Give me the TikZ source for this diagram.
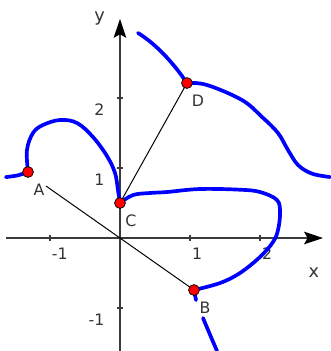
\documentclass[tikz,border=0pt]{standalone}
\usepackage{fontspec}
\setmainfont{DejaVu Sans}
\usetikzlibrary{arrows.meta}
\definecolor{axisgray}{HTML}{3a3a3a}
\definecolor{labelgray}{HTML}{333333}
\begin{document}
\begin{tikzpicture}[
        curve/.style={blue,line width=1.5pt,line cap=round,line join=round},
        axis/.style={axisgray,line width=0.65pt,-{Stealth[length=2.7mm,width=1.8mm,inset=0.5mm,color=black]}},
        dot/.style={circle,draw=black,fill=red,line width=0.3pt,inner sep=0pt,minimum size=1.55mm},
        lbl/.style={text=labelgray,font=\fontsize{6.4}{7}\selectfont,inner sep=0pt}
    ]
        \useasboundingbox (-1.714,-1.614) rectangle (3.0,3.4);
        \draw[axis] (-1.63,0) -- (2.9,0);
        \draw[axis] (0,-1.65) -- (0,3.13);
        \node[lbl,font=\fontsize{7.2}{8}\selectfont] (xlab) at (2.771,-0.49) {x};
        \node[lbl,font=\fontsize{7.2}{8}\selectfont] (ylab) at (-0.29,3.14) {y};
        \foreach \x/\t in {-1/-1,1/1,2/2}
            \draw[axisgray,line width=0.5pt] (\x,-0.043) -- (\x,0.043) node[lbl,anchor=north west] at (\x+0.02,-0.13) {\t};
        \foreach \y/\t in {-1/-1,1/1,2/2}
            \draw[axisgray,line width=0.5pt] (-0.043,\y) -- (0.043,\y) node[lbl,anchor=north east] at (-0.215,\y-0.075) {\t};
        \coordinate (A) at (-1.314,0.943);
        \coordinate (B) at (1.057,-0.743);
        \coordinate (Bm) at (-1.057,0.743);
        \coordinate (C) at (0,0.5);
        \coordinate (D) at (0.957,2.214);
        \draw[black,line width=0.4pt] (Bm) -- (B);
        \draw[black,line width=0.4pt] (C) -- (D);
        \draw[curve] plot[smooth] coordinates {(-1.63,0.87) (-1.46,0.895) (-1.314,0.943)};
        \draw[curve] plot[smooth,tension=0.6] coordinates {(-1.314,0.943) (-1.329,1.257) (-1.243,1.5) (-1.1,1.614) (-0.857,1.686) (-0.614,1.643) (-0.386,1.443) (-0.186,1.171) (-0.071,0.929) (-0.029,0.686) (0,0.5)};
        \draw[curve] plot[smooth,tension=0.6] coordinates {(0,0.5) (0.186,0.614) (0.429,0.643) (0.671,0.657) (1.143,0.7) (1.714,0.69) (2.0,0.657) (2.243,0.543) (2.286,0.357) (2.257,0.114) (2.186,-0.057) (2.0,-0.271) (1.714,-0.5) (1.429,-0.643) (1.057,-0.743)};
        \draw[curve] (1.057,-0.743) -- (1.086,-0.886);
        \draw[curve] plot[smooth] coordinates {(1.186,-1.143) (1.29,-1.39) (1.386,-1.614)};
        \draw[curve] (0.257,2.929) .. controls (0.5,2.78) and (0.75,2.52) .. (D);
        \draw[curve] plot[smooth,tension=0.6] coordinates {(0.957,2.214) (1.243,2.186) (1.743,1.971) (2.029,1.729) (2.257,1.5) (2.4,1.257) (2.543,1.043) (2.743,0.92) (3.0,0.871)};
        \foreach \p in {A,B,C,D}
            \node[dot] (dot\p) at (\p) {};
        \foreach \p in {A,B,C,D}
            \node[lbl] (lab\p) at ([shift={(0.157,-0.25)}]\p) {\p};
    \end{tikzpicture}
\end{document}
